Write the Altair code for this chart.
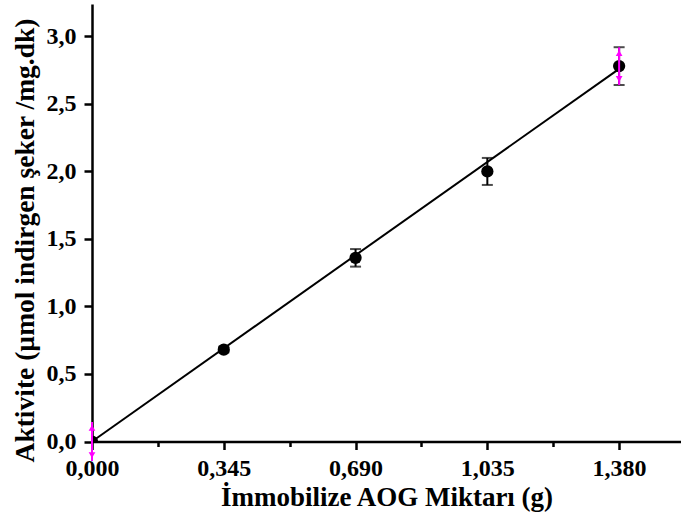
import altair as alt
import pandas as pd

# ---- data ----
x_vals = [0.0, 0.345, 0.69, 1.035, 1.38]
y_vals = [0.0, 0.68, 1.36, 2.0, 2.78]
y_err = [0.145, 0.02, 0.065, 0.1, 0.14]
has_cap = [False, True, True, True, True]
flagged = [True, False, False, False, True]

fit_x = [0.0, 1.38]
fit_y = [0.0, 2.76]

x_major = [0.0, 0.345, 0.69, 1.035, 1.38]
x_minor = [0.1725, 0.5175, 0.8625, 1.2075]
y_major = [0.0, 0.5, 1.0, 1.5, 2.0, 2.5, 3.0]
y_minor = [0.25, 0.75, 1.25, 1.75, 2.25, 2.75]

df = pd.DataFrame({"x": x_vals, "y": y_vals, "err": y_err,
                   "cap": has_cap, "flag": flagged})
df["lo"] = df["y"] - df["err"]
df["hi"] = df["y"] + df["err"]
fit = pd.DataFrame({"x": fit_x, "y": fit_y})

FONT = "Liberation Serif"
MAG = "#FF00FF"

xscale = alt.Scale(domain=[0, 1.542], nice=False, zero=False)
yscale = alt.Scale(domain=[0, 3.24], nice=False, zero=False)

xmaj = "[" + ",".join(str(v) for v in x_major) + "]"
ymaj = "[" + ",".join(str(v) for v in y_major) + "]"

x_axis = alt.Axis(
    values=x_major + x_minor,
    labelExpr=f"indexof({xmaj}, datum.value) >= 0 ? replace(format(datum.value, '.3f'), '.', ',') : ''",
    tickSize={"condition": {"test": f"indexof({xmaj}, datum.value) < 0", "value": 5}, "value": 8},
    labelBaseline="alphabetic", labelPadding=25.5, labelFlush=False,
    title="İmmobilize AOG Miktarı (g)",
    titleBaseline="alphabetic", titleY=63.5,
)
y_axis = alt.Axis(
    values=y_major + y_minor,
    labelExpr=f"indexof({ymaj}, datum.value) >= 0 ? replace(format(datum.value, '.1f'), '.', ',') : ''",
    tickSize={"condition": {"test": f"indexof({ymaj}, datum.value) < 0", "value": 5}, "value": 8},
    labelPadding=8, labelFlush=False,
    title="Aktivite (µmol indirgen şeker /mg.dk)",
    titleFontSize=27.5,
    titleBaseline="alphabetic", titleAngle=270, titleX=-59, titleY=236,
)

X = alt.X("x:Q", scale=xscale, axis=x_axis)
Y = alt.Y("y:Q", scale=yscale, axis=y_axis)

line = alt.Chart(fit).mark_line(color="black", strokeWidth=2).encode(x=X, y=Y)

stems = alt.Chart(df).transform_filter("datum.cap").mark_rule(
    color="black", strokeWidth=2).encode(
    x=alt.X("x:Q", scale=xscale), y=alt.Y("lo:Q", scale=yscale), y2="hi:Q")

caps = alt.Chart(df).transform_filter("datum.cap").transform_fold(
    ["lo", "hi"], as_=["end", "val"]).mark_tick(
    orient="horizontal", color="black", size=11, thickness=2).encode(
    x=alt.X("x:Q", scale=xscale), y=alt.Y("val:Q", scale=yscale))

points = alt.Chart(df).mark_circle(
    color="black", size=150, opacity=1, clip=True).encode(x=X, y=Y)

mstems = alt.Chart(df).transform_filter("datum.flag").mark_rule(
    color=MAG, strokeWidth=2).encode(
    x=alt.X("x:Q", scale=xscale), y=alt.Y("lo:Q", scale=yscale), y2="hi:Q")

up = alt.Chart(df).transform_filter("datum.flag").mark_point(
    shape="triangle-up", filled=True, color=MAG, size=45, opacity=1,
    yOffset=6).encode(x=alt.X("x:Q", scale=xscale), y=alt.Y("hi:Q", scale=yscale))

down = alt.Chart(df).transform_filter("datum.flag").mark_point(
    shape="triangle-down", filled=True, color=MAG, size=45, opacity=1,
    yOffset=-6).encode(x=alt.X("x:Q", scale=xscale), y=alt.Y("lo:Q", scale=yscale))

chart = alt.layer(line, stems, caps, points, mstems, up, down).properties(
    width=589, height=437.5,
    autosize=alt.AutoSizeParams(type="none"),
    padding={"left": 92, "top": 4, "right": 0, "bottom": 78.5},
    background="white",
).configure_view(stroke=None).configure_axis(
    grid=False,
    domainColor="black", domainWidth=2.5,
    tickColor="black", tickWidth=2.5,
    labelFont=FONT, labelFontSize=24, labelFontWeight="bold", labelColor="black",
    titleFont=FONT, titleFontSize=27, titleFontWeight="bold", titleColor="black",
)

chart.save("out.html", embed_options={"renderer": "svg", "actions": False})
